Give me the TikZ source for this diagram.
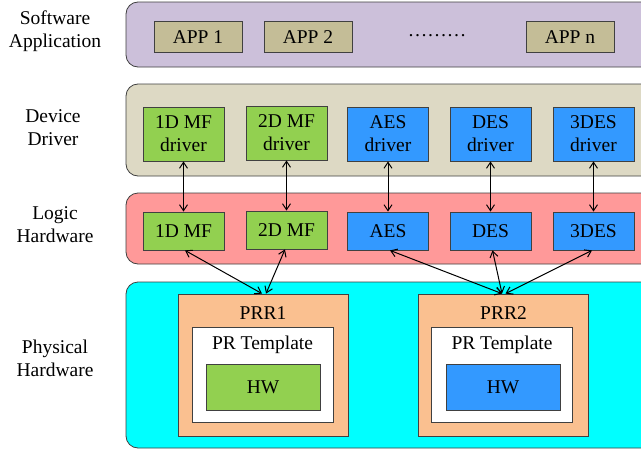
\documentclass[tikz,border=0pt]{standalone}
\usepackage{fontspec}
\setmainfont{Liberation Serif}
\usetikzlibrary{arrows.meta}
\definecolor{lav}{HTML}{CCC0DA}
\definecolor{khaki}{HTML}{C4BD97}
\definecolor{beige}{HTML}{DDD9C4}
\definecolor{grn}{HTML}{92D050}
\definecolor{blu}{HTML}{3399FF}
\definecolor{pink}{HTML}{FF9999}
\definecolor{cyn}{HTML}{00FFFF}
\definecolor{peach}{HTML}{FAC090}
\definecolor{edge}{HTML}{404040}
\begin{document}
\begin{tikzpicture}[x=1pt,y=-1pt,
  every node/.style={font=\fontsize{19.5}{23}\selectfont, inner sep=0pt},
  band/.style={draw=edge, line width=0.8pt, rounded corners=12pt, minimum width=534pt},
  box/.style={draw=edge, line width=0.8pt, align=center},
  lab/.style={align=center},
  dbl/.style={{Straight Barb[length=6pt,width=8pt]}-{Straight Barb[length=6pt,width=8pt]}, line width=1pt, black}]
\useasboundingbox (0,0) rectangle (641,450);
\fill[white] (0,0) rectangle (641,450);
% bands
\node[band, fill=lav, minimum height=65pt] (swb) at (393,34.5) {};
\node[band, fill=beige, minimum height=92pt] (ddb) at (393,130) {};
\node[band, fill=pink, minimum height=71pt] (lhb) at (393,228.5) {};
\node[band, fill=cyn, minimum height=166pt] (phb) at (393,365) {};
% left labels
\node[lab] (l1) at (55,31) {Software\\Application};
\node[lab] (l2) at (53,128) {Device\\Driver};
\node[lab] (l3) at (55,225) {Logic\\Hardware};
\node[lab] (l4) at (55,358) {Physical\\Hardware};
% apps
\tikzset{app/.style={box, fill=khaki, minimum width=88pt, minimum height=31pt}}
\node[app] (app1) at (198,37) {APP 1};
\node[app] (app2) at (308,37) {APP 2};
\node[app] (appn) at (570,37) {APP n};
\node (dots) at (437,36) {………};
% drivers
\tikzset{drv/.style={box, minimum width=81pt, minimum height=54pt}}
\node[drv, fill=grn] (d1) at (183.5,134) {1D MF\\driver};
\node[drv, fill=grn] (d2) at (286.5,133) {2D MF\\driver};
\node[drv, fill=blu] (d3) at (388,134) {AES\\driver};
\node[drv, fill=blu] (d4) at (490.5,134) {DES\\driver};
\node[drv, fill=blu] (d5) at (593.5,134) {3DES\\driver};
% logic
\tikzset{lgc/.style={box, minimum width=81pt, minimum height=38pt}}
\node[lgc, fill=grn] (g1) at (183.5,231) {1D MF};
\node[lgc, fill=grn] (g2) at (286.5,230) {2D MF};
\node[lgc, fill=blu] (g3) at (388,231) {AES};
\node[lgc, fill=blu] (g4) at (490.5,231) {DES};
\node[lgc, fill=blu] (g5) at (593.5,231) {3DES};
% physical
\tikzset{prr/.style={box, fill=peach, minimum width=170pt, minimum height=142pt},
  tpl/.style={box, fill=white, minimum width=141pt, minimum height=95pt},
  hw/.style={box, minimum width=114pt, minimum height=46pt}}
\node[prr] (p1) at (263,365) {};
\node[prr] (p2) at (503.5,365) {};
\node[tpl] (t1) at (262.5,374.5) {};
\node[tpl] (t2) at (502,374.5) {};
\node[hw, fill=grn] (h1) at (263,387) {HW};
\node[hw, fill=blu] (h2) at (503,387) {HW};
\node (p1l) at (263,313) {PRR1};
\node (p2l) at (503.5,313) {PRR2};
\node (t1l) at (262.5,345) {PR Template};
\node (t2l) at (502,345) {PR Template};
% arrows
\foreach \i in {1,...,5} {\draw[dbl] (d\i.south) -- (g\i.north);}
\coordinate (p1a) at ([xshift=-1pt]p1.north);
\coordinate (p1b) at ([xshift=3pt]p1.north);
\coordinate (p2a) at ([xshift=-1.5pt]p2.north);
\coordinate (p2b) at ([xshift=2pt]p2.north);
\draw[dbl] ([xshift=1.5pt]g1.south) -- (p1a);
\draw[dbl] ([xshift=-1.5pt]g2.south) -- (p1b);
\draw[dbl] ([xshift=2pt]g3.south) -- (p2a);
\draw[dbl] ([xshift=2pt]g4.south) -- (p2a);
\draw[dbl] ([xshift=-1.5pt]g5.south) -- (p2b);
\end{tikzpicture}
\end{document}
